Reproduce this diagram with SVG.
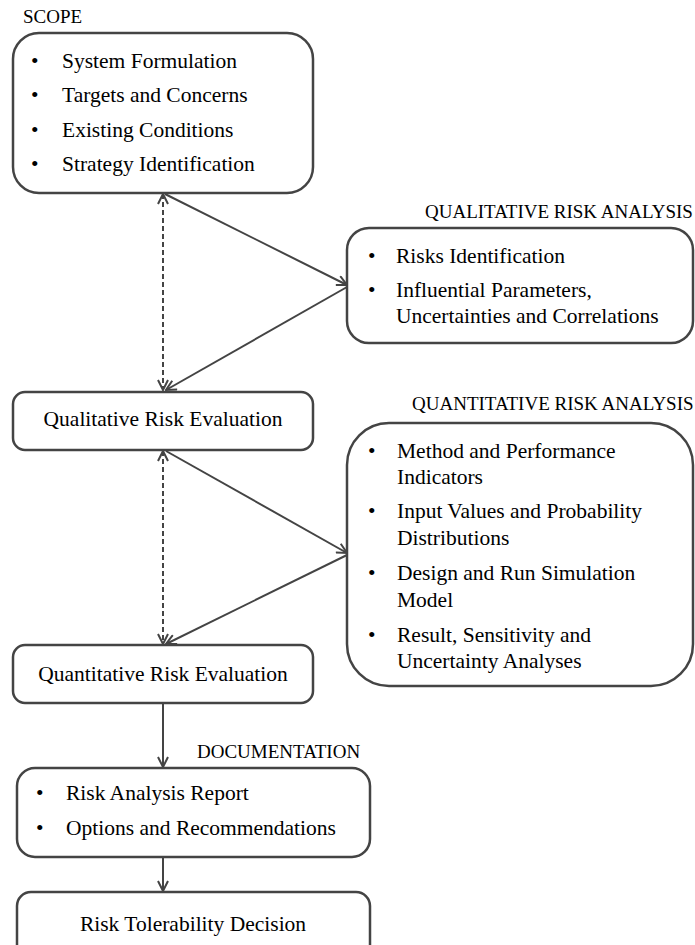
<svg xmlns="http://www.w3.org/2000/svg" width="695" height="945" viewBox="0 0 695 945">
<defs>
<style>
.box{fill:#fff;stroke:#444;stroke-width:2.5}
.t{font-family:"Liberation Serif","Times New Roman",serif;font-size:21.5px;fill:#000}
.lbl{font-family:"Liberation Serif","Times New Roman",serif;font-size:19px;fill:#000}
.c{text-anchor:middle}
.ln{stroke:#444;stroke-width:2;fill:none}
.dash{stroke-dasharray:5,3}
</style>
<marker id="ah" viewBox="0 0 12 12" refX="11" refY="6" markerWidth="12" markerHeight="12" markerUnits="userSpaceOnUse" orient="auto-start-reverse">
<path d="M1,1 L11,6 L1,11" fill="none" stroke="#444" stroke-width="2"/>
</marker>
</defs>
<rect width="695" height="945" fill="#fff"/>

<g id="connectors">
<line class="ln dash" x1="163" y1="194" x2="163" y2="390" marker-start="url(#ah)" marker-end="url(#ah)"/>
<line class="ln" x1="165" y1="194" x2="347" y2="285" marker-end="url(#ah)"/>
<line class="ln" x1="347" y1="287" x2="166" y2="390" marker-end="url(#ah)"/>
<line class="ln dash" x1="163" y1="451" x2="163" y2="644" marker-start="url(#ah)" marker-end="url(#ah)"/>
<line class="ln" x1="166" y1="451" x2="347" y2="553" marker-end="url(#ah)"/>
<line class="ln" x1="347" y1="555" x2="166" y2="644" marker-end="url(#ah)"/>
<line class="ln" x1="163" y1="704" x2="163" y2="767" marker-end="url(#ah)"/>
<line class="ln" x1="163" y1="858" x2="163" y2="891" marker-end="url(#ah)"/>
</g>

<g id="scope">
<text class="lbl" x="23" y="23">SCOPE</text>
<rect class="box" x="13" y="33" width="300" height="160" rx="26"/>
<text class="t" x="31" y="68">•</text><text class="t" x="62" y="68">System Formulation</text>
<text class="t" x="31" y="102">•</text><text class="t" x="62" y="102">Targets and Concerns</text>
<text class="t" x="31" y="137">•</text><text class="t" x="62" y="137">Existing Conditions</text>
<text class="t" x="31" y="171">•</text><text class="t" x="62" y="171">Strategy Identification</text>
</g>

<g id="qualitative-analysis">
<text class="lbl" x="425" y="218">QUALITATIVE RISK ANALYSIS</text>
<rect class="box" x="347" y="228" width="346" height="115" rx="22"/>
<text class="t" x="368" y="263">•</text><text class="t" x="396" y="263">Risks Identification</text>
<text class="t" x="368" y="297">•</text><text class="t" x="396" y="297">Influential Parameters,</text>
<text class="t" x="396" y="323">Uncertainties and Correlations</text>
</g>

<g id="qualitative-evaluation">
<rect class="box" x="13" y="392" width="300" height="58" rx="12"/>
<text class="t c" x="163" y="426">Qualitative Risk Evaluation</text>
</g>

<g id="quantitative-analysis">
<text class="lbl" x="412" y="410">QUANTITATIVE RISK ANALYSIS</text>
<rect class="box" x="347" y="423" width="346" height="263" rx="42"/>
<text class="t" x="368" y="458">•</text><text class="t" x="397" y="458">Method and Performance</text>
<text class="t" x="397" y="484">Indicators</text>
<text class="t" x="368" y="518">•</text><text class="t" x="397" y="518">Input Values and Probability</text>
<text class="t" x="397" y="545">Distributions</text>
<text class="t" x="368" y="580">•</text><text class="t" x="397" y="580">Design and Run Simulation</text>
<text class="t" x="397" y="607">Model</text>
<text class="t" x="368" y="642">•</text><text class="t" x="397" y="642">Result, Sensitivity and</text>
<text class="t" x="397" y="668">Uncertainty Analyses</text>
</g>

<g id="quantitative-evaluation">
<rect class="box" x="13" y="645" width="300" height="58" rx="12"/>
<text class="t c" x="163" y="681">Quantitative Risk Evaluation</text>
</g>

<g id="documentation">
<text class="lbl" x="197" y="758">DOCUMENTATION</text>
<rect class="box" x="17" y="768" width="353" height="89" rx="18"/>
<text class="t" x="36" y="800">•</text><text class="t" x="66" y="800">Risk Analysis Report</text>
<text class="t" x="36" y="835">•</text><text class="t" x="66" y="835">Options and Recommendations</text>
</g>

<g id="decision">
<rect class="box" x="17" y="892" width="353" height="70" rx="14"/>
<text class="t c" x="193" y="931">Risk Tolerability Decision</text>
</g>
</svg>
